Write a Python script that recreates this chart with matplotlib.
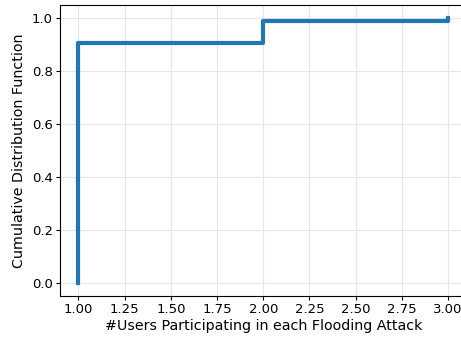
import matplotlib
matplotlib.use('Agg')
import matplotlib.pyplot as plt

# number of users taking part in one flooding attack, and the CDF at each count
users = [1, 1, 2, 3]
cdf = [0.0, 0.907, 0.989, 1.0]

fig = plt.figure(figsize=(4.61, 3.37), dpi=100)
ax = fig.add_axes([60 / 461, 41 / 337, 406.5 / 461, 291 / 337])

ax.step(users, cdf, where='post', color='#1f77b4', linewidth=3)

ax.set_xlim(0.9, 3.1)
ax.set_ylim(-0.05, 1.05)
ax.set_xticks([1.0, 1.25, 1.5, 1.75, 2.0, 2.25, 2.5, 2.75, 3.0])
ax.set_yticks([0.0, 0.2, 0.4, 0.6, 0.8, 1.0])
ax.tick_params(labelsize=9.5, length=2.8, pad=2.5)
ax.grid(True, color='#e6e6e6', linewidth=0.8)
ax.set_axisbelow(True)

ax.set_xlabel('#Users Participating in each Flooding Attack', fontsize=10.3, labelpad=2)
ax.set_ylabel('Cumulative Distribution Function', fontsize=10.3, labelpad=4)

fig.savefig('out.png', dpi=100)
